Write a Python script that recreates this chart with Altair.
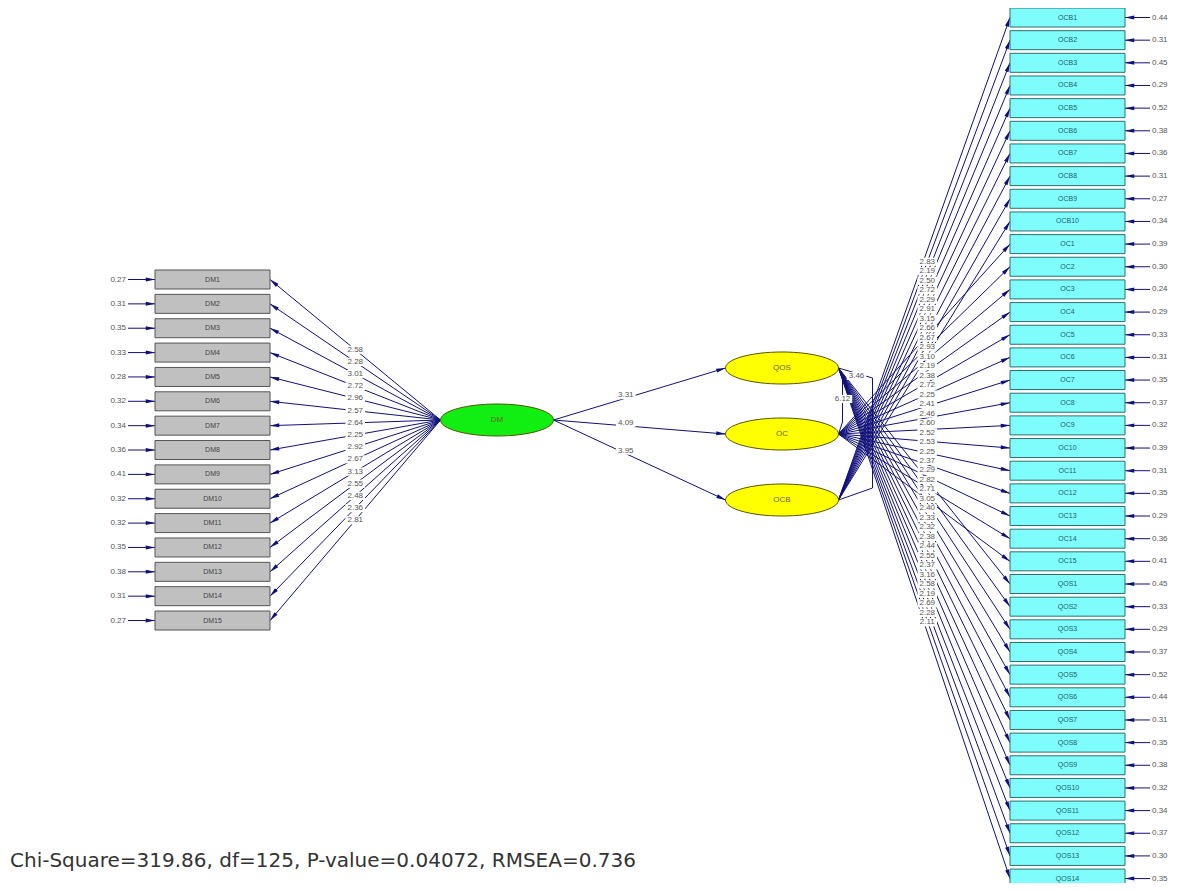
import math
import altair as alt
import pandas as pd

# ---------------- data ----------------
dm_items = [f"DM{i}" for i in range(1, 16)]
dm_err = [0.27, 0.31, 0.35, 0.33, 0.28, 0.32, 0.34, 0.36, 0.41, 0.32, 0.32, 0.35, 0.38, 0.31, 0.27]
dm_load = [2.58, 2.28, 3.01, 2.72, 2.96, 2.57, 2.64, 2.25, 2.92, 2.67, 3.13, 2.55, 2.48, 2.36, 2.81]

ocb_items = [f"OCB{i}" for i in range(1, 11)]
oc_items = [f"OC{i}" for i in range(1, 16)]
qos_items = [f"QOS{i}" for i in range(1, 15)]
right_items = ocb_items + oc_items + qos_items
right_factor = ["OCB"] * 10 + ["OC"] * 15 + ["QOS"] * 14
right_err = [0.44, 0.31, 0.45, 0.29, 0.52, 0.38, 0.36, 0.31, 0.27, 0.34,
             0.39, 0.30, 0.24, 0.29, 0.33, 0.31, 0.35, 0.37, 0.32, 0.39, 0.31, 0.35, 0.29, 0.36, 0.41,
             0.45, 0.33, 0.29, 0.37, 0.52, 0.44, 0.31, 0.35, 0.38, 0.32, 0.34, 0.37, 0.30, 0.35]
right_load = [2.83, 2.19, 2.50, 2.72, 2.29, 2.91, 3.15, 2.66, 2.93, 2.19,
              2.67, 3.10, 2.38, 2.72, 2.25, 2.41, 2.46, 2.60, 2.52, 2.53, 2.25, 2.37, 2.29, 2.71, 2.40,
              2.82, 3.05, 2.33, 2.32, 2.38, 2.44, 2.55, 2.37, 3.16, 2.58, 2.19, 2.69, 2.28, 2.11]

exo_factor = "DM"
endo_factors = ["QOS", "OC", "OCB"]
gamma = [3.31, 4.09, 3.95]
cov_pairs = [("QOS", "OC"), ("QOS", "OCB")]
cov_vals = [6.12, 3.46]
fit_text = "Chi-Square=319.86, df=125, P-value=0.04072, RMSEA=0.736"

# ---------------- layout (pixel space of the page) ----------------
L_X0, L_X1, L_Y0, L_STEP, L_H = 155, 270, 279.5, 24.36, 19
R_X0, R_X1, R_Y0, R_STEP, R_H = 1010, 1125, 17.5, 22.66, 19
DM_C = (497, 420)
F_X = 782
F_Y = {"QOS": 368, "OC": 434, "OCB": 500}
RX, RY = 56.5, 16
NAVY = "#10107a"

XS = alt.Scale(domain=[8, 1176])
YS = alt.Scale(domain=[8, 883], reverse=True)


def enc_pt(**kw):
    return dict(x=alt.X("x:Q", scale=XS, axis=None), y=alt.Y("y:Q", scale=YS, axis=None), **kw)


def enc_seg():
    return dict(x=alt.X("x:Q", scale=XS, axis=None), y=alt.Y("y:Q", scale=YS, axis=None),
                x2="x2:Q", y2="y2:Q")


segs, heads, labels, bgs = [], [], [], []


def arrow(x1, y1, x2, y2, head=True):
    segs.append(dict(x=x1, y=y1, x2=x2, y2=y2))
    if head:
        dx, dy = x2 - x1, y2 - y1
        n = math.hypot(dx, dy)
        ux, uy = dx / n, dy / n
        ang = math.degrees(math.atan2(ux, -uy)) % 360
        heads.append(dict(x=x2 - 4.5 * ux, y=y2 - 4.5 * uy, ang=ang))


# left boxes
lboxes = []
for i, (name, e, l) in enumerate(zip(dm_items, dm_err, dm_load)):
    yc = L_Y0 + i * L_STEP
    lboxes.append(dict(x=L_X0, x2=L_X1, y=yc - L_H / 2, y2=yc + L_H / 2, name=name, xc=(L_X0 + L_X1) / 2, yc=yc))
    sx, sy = DM_C[0] - RX, DM_C[1]
    arrow(sx, sy, L_X1, yc)
    t = 0.5
    labels.append(dict(x=sx + t * (L_X1 - sx), y=sy + t * (yc - sy), t=f"{l:.2f}"))
    bgs.append(dict(x=sx + t * (L_X1 - sx), y=sy + t * (yc - sy)))
    arrow(128, yc, L_X0, yc)
err_l = pd.DataFrame([dict(x=126, y=L_Y0 + i * L_STEP, t=f"{e:.2f}") for i, e in enumerate(dm_err)])

# right boxes
rboxes, rl = [], []
for i, (name, f, e, l) in enumerate(zip(right_items, right_factor, right_err, right_load)):
    yc = R_Y0 + i * R_STEP
    rboxes.append(dict(x=R_X0, x2=R_X1, y=yc - R_H / 2, y2=yc + R_H / 2, name=name, xc=(R_X0 + R_X1) / 2, yc=yc))
    sx, sy = F_X + RX, F_Y[f]
    arrow(sx, sy, R_X0, yc)
    t = 0.5
    rl.append(dict(x=sx + t * (R_X0 - sx) + 3, y=sy + t * (yc - sy), t=f"{l:.2f}"))
    arrow(1150, yc, R_X1, yc)
# labels stacked in a column in the order of their path midpoints (as LISREL does)
rl = sorted(rl, key=lambda d: d["y"])
y_top, y_bot = rl[0]["y"] + 3, rl[-1]["y"] - 1
for k, d in enumerate(rl):
    d["y"] = y_top + k * (y_bot - y_top) / (len(rl) - 1)
err_r = pd.DataFrame([dict(x=1152, y=R_Y0 + i * R_STEP, t=f"{e:.2f}") for i, e in enumerate(right_err)])

# structural paths
for f, g in zip(endo_factors, gamma):
    sx, sy = DM_C[0] + RX, DM_C[1]
    ex, ey = F_X - RX, F_Y[f]
    arrow(sx, sy, ex, ey)
    t = 0.42
    labels.append(dict(x=sx + t * (ex - sx), y=sy + t * (ey - sy) - 3, t=f"{g:.2f}"))
    bgs.append(dict(x=sx + t * (ex - sx), y=sy + t * (ey - sy) - 3))

# covariance brackets
cov_lines = []
for k, ((a, b), v) in enumerate(zip(cov_pairs, cov_vals)):
    xa = F_X + RX
    off = 4 + 30 * k
    pts = [(xa, F_Y[a]), (xa + off, F_Y[a] + 10), (xa + off, F_Y[b] - 12), (xa, F_Y[b])]
    for j, (px, py) in enumerate(pts):
        cov_lines.append(dict(x=px, y=py, id=k, o=j))
    if k == 0:
        labels.append(dict(x=xa + off, y=(F_Y[a] + F_Y[b]) / 2 - 2, t=f"{v:.2f}"))
        bgs.append(dict(x=xa + off, y=(F_Y[a] + F_Y[b]) / 2 - 2))
    else:
        labels.append(dict(x=xa + 18, y=F_Y[a] + 8, t=f"{v:.2f}"))
        bgs.append(dict(x=xa + 18, y=F_Y[a] + 8))

ells = pd.DataFrame(
    [dict(x=DM_C[0], y=DM_C[1], name=exo_factor, c="#11ee11")] +
    [dict(x=F_X, y=F_Y[f], name=f, c="#ffff00") for f in endo_factors]
)

seg_df = pd.DataFrame(segs)
head_df = pd.DataFrame(heads)
lab_df = pd.DataFrame(labels)
bg_df = pd.DataFrame(bgs)
rl_df = pd.DataFrame(rl)
cov_df = pd.DataFrame(cov_lines)
lb_df = pd.DataFrame(lboxes)
rb_df = pd.DataFrame(rboxes)

ELL = f"M -1 0 A 1 {RY / RX:.4f} 0 1 0 1 0 A 1 {RY / RX:.4f} 0 1 0 -1 0 Z"
ARROW = "M 0 -1 L 0.42 1 L -0.42 1 Z"
BG = "M -1 -0.42 L 1 -0.42 L 1 0.42 L -1 0.42 Z"
FONT = "Liberation Sans"

lines = alt.Chart(seg_df).mark_rule(color=NAVY, strokeWidth=1).encode(**enc_seg())
covs = alt.Chart(cov_df).mark_line(color=NAVY, strokeWidth=1).encode(
    **enc_pt(detail="id:N", order="o:Q"))
arrowheads = alt.Chart(head_df).mark_point(shape=ARROW, filled=True, color=NAVY, size=90, opacity=1).encode(
    **enc_pt(angle=alt.Angle("ang:Q", scale=None)))

lrect = alt.Chart(lb_df).mark_rect(fill="#c0c0c0", stroke="#555555", strokeWidth=1).encode(
    x=alt.X("x:Q", scale=XS, axis=None), x2="x2:Q", y=alt.Y("y:Q", scale=YS, axis=None), y2="y2:Q")
rrect = alt.Chart(rb_df).mark_rect(fill="#7ffdfd", stroke="#2f6f6f", strokeWidth=1).encode(
    x=alt.X("x:Q", scale=XS, axis=None), x2="x2:Q", y=alt.Y("y:Q", scale=YS, axis=None), y2="y2:Q")
ltxt = alt.Chart(lb_df).mark_text(fontSize=7, color="#444444", font=FONT).encode(
    x=alt.X("xc:Q", scale=XS, axis=None), y=alt.Y("yc:Q", scale=YS, axis=None), text="name:N")
rtxt = alt.Chart(rb_df).mark_text(fontSize=7, color="#1d5f6a", font=FONT).encode(
    x=alt.X("xc:Q", scale=XS, axis=None), y=alt.Y("yc:Q", scale=YS, axis=None), text="name:N")

ellipses = alt.Chart(ells).mark_point(shape=ELL, filled=True, size=(2 * RX) ** 2, stroke="#555500",
                                      strokeWidth=1, opacity=1).encode(
    **enc_pt(fill=alt.Fill("c:N", scale=None)))
etxt = alt.Chart(ells).mark_text(fontSize=8, color="#666633", font=FONT).encode(**enc_pt(text="name:N"))

bgm = alt.Chart(bg_df).mark_point(shape=BG, filled=True, color="white", size=380, opacity=1).encode(**enc_pt())
ltx = alt.Chart(lab_df).mark_text(fontSize=8, color="#555555", font=FONT).encode(**enc_pt(text="t:N"))
rbg = alt.Chart(rl_df).mark_point(shape=BG, filled=True, color="white", size=380, opacity=1).encode(**enc_pt())
rtx = alt.Chart(rl_df).mark_text(fontSize=8, color="#555555", font=FONT).encode(**enc_pt(text="t:N"))

el_txt = alt.Chart(err_l).mark_text(fontSize=8, color="#555555", align="right", font=FONT).encode(**enc_pt(text="t:N"))
er_txt = alt.Chart(err_r).mark_text(fontSize=8, color="#555555", align="left", font=FONT).encode(**enc_pt(text="t:N"))

fit = alt.Chart(pd.DataFrame([dict(x=10, y=861, t=fit_text)])).mark_text(
    fontSize=20, color="#333333", align="left", baseline="middle", font="DejaVu Sans").encode(**enc_pt(text="t:N"))

chart = alt.layer(
    lines, covs, arrowheads, lrect, rrect, ltxt, rtxt, ellipses, etxt,
    bgm, ltx, rbg, rtx, el_txt, er_txt, fit
).properties(width=1168, height=875, padding=0, autosize="none").configure_view(strokeWidth=0)

chart.save("out.html", embed_options={"renderer": "svg", "actions": False})
